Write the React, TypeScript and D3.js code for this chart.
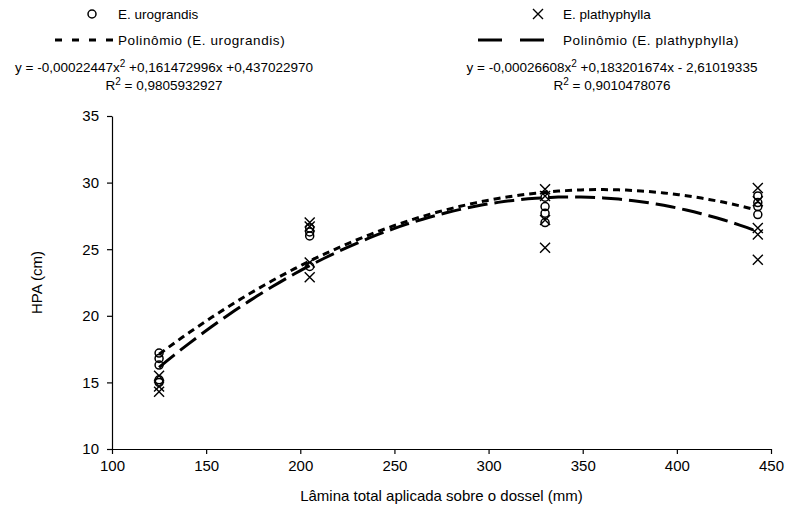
import React, { useEffect, useRef } from "react";
import * as d3 from "d3";

// lâminas (mm) e HPA (cm)
const laminas = [125, 205, 330, 443];
const urograndis = [
  [17.2, 16.8, 16.3, 15.2, 15.0],
  [26.6, 26.3, 26.0, 23.7],
  [28.9, 28.2, 27.7, 27.0],
  [29.0, 28.5, 28.2, 27.6],
];
const plathyphylla = [
  [15.5, 14.7, 14.3],
  [27.0, 26.7, 24.0, 22.9],
  [29.5, 29.0, 27.2, 25.1],
  [29.6, 28.6, 26.6, 26.1, 24.2],
];
// coeficientes das linhas de tendência (a x² + b x + c), como impressos
const coefUro = [-0.00022447, 0.161472996, 0.43702297];
const coefPla = [-0.00026608, 0.183201674, -2.61019335];
const xTicks = [100, 150, 200, 250, 300, 350, 400, 450];
const yTicks = [10, 15, 20, 25, 30, 35];

const W = 806;
const H = 528;
const font = "'Liberation Sans', Arial, sans-serif";

export default function App() {
  const ref = useRef<SVGSVGElement>(null);

  useEffect(() => {
    document.body.style.margin = "0";
    const svg = d3.select(ref.current);
    svg.selectAll("*").remove();

    const x = d3.scaleLinear().domain([100, 450]).range([112, 771]);
    const y = d3.scaleLinear().domain([10, 35]).range([449, 116]);

    // eixos
    const gx = svg
      .append("g")
      .attr("transform", `translate(0,${y(10)})`)
      .call(d3.axisBottom(x).tickValues(xTicks).tickSize(5).tickSizeOuter(0).tickPadding(6));
    const gy = svg
      .append("g")
      .attr("transform", `translate(${x(100)},0)`)
      .call(d3.axisLeft(y).tickValues(yTicks).tickSize(5).tickSizeOuter(0).tickPadding(8));
    [gx, gy].forEach((g) => {
      g.select(".domain").attr("stroke", "#000").attr("stroke-width", 1.2);
      g.selectAll(".tick line").attr("stroke", "#000").attr("stroke-width", 1.2);
      g.selectAll(".tick text")
        .attr("fill", "#000")
        .attr("font-family", font)
        .attr("font-size", 15);
    });

    svg
      .append("text")
      .attr("x", (x(100) + x(450)) / 2)
      .attr("y", 501)
      .attr("text-anchor", "middle")
      .attr("font-family", font)
      .attr("font-size", 15)
      .text("Lâmina total aplicada sobre o dossel (mm)");
    svg
      .append("text")
      .attr("transform", `translate(42,${(y(10) + y(35)) / 2}) rotate(-90)`)
      .attr("text-anchor", "middle")
      .attr("font-family", font)
      .attr("font-size", 15)
      .text("HPA (cm)");

    // linhas de tendência
    const poly = (c: number[]) => (v: number) => c[0] * v * v + c[1] * v + c[2];
    const xs = d3.range(laminas[0], laminas[laminas.length - 1] + 0.1, 4);
    const line = (f: (v: number) => number) =>
      d3
        .line<number>()
        .x((v) => x(v))
        .y((v) => y(f(v)))(xs);
    svg
      .append("path")
      .attr("d", line(poly(coefUro)))
      .attr("fill", "none")
      .attr("stroke", "#000")
      .attr("stroke-width", 3)
      .attr("stroke-dasharray", "7,5");
    svg
      .append("path")
      .attr("d", line(poly(coefPla)))
      .attr("fill", "none")
      .attr("stroke", "#000")
      .attr("stroke-width", 3)
      .attr("stroke-dasharray", "20,7");

    // pontos
    const pts = (vals: number[][]) =>
      vals.flatMap((arr, i) => arr.map((v) => ({ lx: laminas[i], v })));
    svg
      .append("g")
      .selectAll("circle")
      .data(pts(urograndis))
      .join("circle")
      .attr("cx", (d) => x(d.lx))
      .attr("cy", (d) => y(d.v))
      .attr("r", 4)
      .attr("fill", "none")
      .attr("stroke", "#000")
      .attr("stroke-width", 1.5);
    const cross = (cx: number, cy: number, s: number) =>
      `M${cx - s},${cy - s}L${cx + s},${cy + s}M${cx - s},${cy + s}L${cx + s},${cy - s}`;
    svg
      .append("g")
      .selectAll("path")
      .data(pts(plathyphylla))
      .join("path")
      .attr("d", (d) => cross(x(d.lx), y(d.v), 5))
      .attr("stroke", "#000")
      .attr("stroke-width", 1.4);

    // legenda
    const leg = svg.append("g").attr("font-family", font).attr("font-size", 13.5);
    leg.append("circle").attr("cx", 92).attr("cy", 14).attr("r", 4).attr("fill", "none").attr("stroke", "#000").attr("stroke-width", 1.5);
    leg.append("text").attr("x", 118).attr("y", 19).text("E. urograndis");
    leg.append("line").attr("x1", 55).attr("x2", 115).attr("y1", 40).attr("y2", 40)
      .attr("stroke", "#000").attr("stroke-width", 3).attr("stroke-dasharray", "7,10");
    leg.append("text").attr("x", 118).attr("y", 45).attr("letter-spacing", 0.6).text("Polinômio (E. urograndis)");

    leg.append("path").attr("d", cross(538, 14, 5)).attr("stroke", "#000").attr("stroke-width", 1.4);
    leg.append("text").attr("x", 563).attr("y", 19).text("E. plathyphylla");
    leg.append("line").attr("x1", 478).attr("x2", 560).attr("y1", 40).attr("y2", 40)
      .attr("stroke", "#000").attr("stroke-width", 3).attr("stroke-dasharray", "24,18");
    leg.append("text").attr("x", 563).attr("y", 45).attr("letter-spacing", 0.6).text("Polinômio (E. plathyphylla)");

    const eq = (cx: number, parts: string[], r2: string) => {
      const t = leg.append("text").attr("x", cx).attr("y", 72).attr("text-anchor", "middle");
      t.append("tspan").text(parts[0]);
      t.append("tspan").attr("dy", -5).attr("font-size", 10).text("2");
      t.append("tspan").attr("dy", 5).text(parts[1]);
      const r = leg.append("text").attr("x", cx).attr("y", 90).attr("text-anchor", "middle");
      r.append("tspan").text("R");
      r.append("tspan").attr("dy", -5).attr("font-size", 10).text("2");
      r.append("tspan").attr("dy", 5).text(" = " + r2);
    };
    eq(164, ["y = -0,00022447x", " +0,161472996x +0,437022970"], "0,9805932927");
    eq(612, ["y = -0,00026608x", " +0,183201674x - 2,61019335"], "0,9010478076");
  }, []);

  return <svg ref={ref} width={W} height={H} style={{ display: "block", background: "#fff" }} />;
}
